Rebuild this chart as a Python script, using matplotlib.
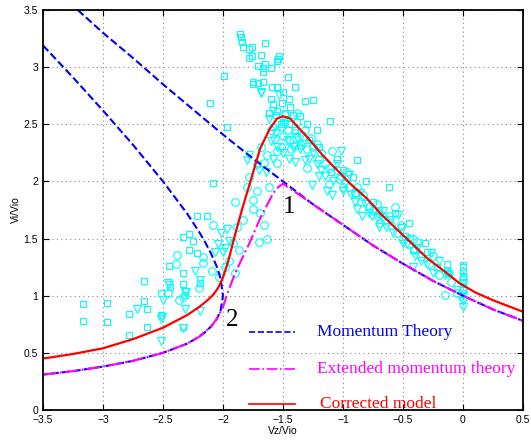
import matplotlib
matplotlib.use("Agg")
import matplotlib.pyplot as plt

# ---- Momentum theory (blue dashed) ----
mt_norm_x = [-3.21, -3.0, -2.75, -2.5, -2.25, -2.0, -1.75, -1.5, -1.25, -1.0, -0.75, -0.5, -0.25, 0.0, 0.25, 0.5]
mt_norm_y = [3.50, 3.30, 3.08, 2.85, 2.63, 2.41, 2.20, 2.00, 1.80, 1.62, 1.44, 1.28, 1.13, 1.00, 0.88, 0.78]

mt_wbs_x = [-3.5, -3.25, -3.0, -2.75, -2.5, -2.4, -2.3, -2.2, -2.15, -2.1, -2.05, -2.02, -2.0,
            -2.02, -2.05, -2.1, -2.15, -2.2, -2.3, -2.4, -2.5, -2.75, -3.0, -3.25, -3.5]
mt_wbs_y = [3.19, 2.91, 2.62, 2.32, 2.00, 1.86, 1.72, 1.56, 1.47, 1.37, 1.25, 1.15, 1.00,
            0.87, 0.80, 0.73, 0.68, 0.64, 0.58, 0.54, 0.50, 0.43, 0.38, 0.34, 0.31]

# ---- Extended momentum theory (magenta dash-dot) ----
emt_x = [-3.5, -3.25, -3.0, -2.75, -2.5, -2.4, -2.3, -2.2, -2.1, -2.05, -2.0, -1.97, -1.92, -1.88,
         -1.83, -1.78, -1.73, -1.68, -1.63, -1.58, -1.54, -1.5, -1.25, -1.0, -0.75, -0.5, -0.25, 0.0, 0.25, 0.5]
emt_y = [0.31, 0.34, 0.38, 0.43, 0.50, 0.54, 0.58, 0.64, 0.73, 0.80, 0.90, 1.00, 1.14, 1.24,
         1.35, 1.46, 1.58, 1.70, 1.80, 1.90, 1.95, 1.98, 1.80, 1.62, 1.44, 1.28, 1.13, 1.00, 0.88, 0.78]

# ---- Corrected model (red solid) ----
cm_x = [-3.5, -3.25, -3.0, -2.75, -2.5, -2.3, -2.2, -2.13, -2.08, -2.04, -2.0, -1.96, -1.92, -1.88, -1.84,
        -1.80, -1.76, -1.69, -1.61, -1.55, -1.5, -1.44, -1.38, -1.30, -1.17, -1.05, -0.94, -0.80, -0.68,
        -0.55, -0.42, -0.30, -0.15, -0.03, 0.1, 0.25, 0.5]
cm_y = [0.45, 0.49, 0.54, 0.62, 0.72, 0.83, 0.90, 0.96, 1.01, 1.07, 1.16, 1.29, 1.45, 1.61, 1.76,
        1.90, 2.04, 2.29, 2.46, 2.55, 2.57, 2.55, 2.48, 2.39, 2.23, 2.10, 1.98, 1.85, 1.71,
        1.58, 1.45, 1.33, 1.21, 1.11, 1.03, 0.96, 0.86]

# ---- Measured data ----
sq_x = [-3.17, -3.17, -2.97, -2.97, -2.78, -2.78, -2.63, -2.66, -2.66, -2.63, -2.52, -2.52, -2.44, -2.45,
        -2.33, -2.33, -2.32, -2.33, -2.08, -2.22, -2.13, -2.28, -2.33, -2.25, -2.28, -2.22, -2.19, -2.11,
        -1.97, -1.99, -1.86, -1.85, -1.84, -1.83, -1.76, -1.78, -1.65, -1.68, -1.76, -1.78, -1.53, -1.54,
        -1.65, -1.71, -1.67, -1.67, -1.60, -1.55, -1.46, -1.75, -1.75, -1.71, -1.67, -1.59, -1.55, -1.40,
        -1.51, -1.44, -1.55, -1.60, -1.56, -1.48, -1.42, -1.36, -1.32, -1.25, -1.11, -1.38, -1.52, -1.58,
        -0.88, -0.81, -0.62, -0.45, -0.57, -0.75, -0.32, -0.30, -0.13, -0.13, -0.125, 0.0, 0.0, 0.0, 0.0,
        0.0, 0.0, -0.52, -0.48, -0.92, -1.0, -1.2, -1.28, -1.1,
        -1.50, -1.45, -1.40, -1.30, -1.22, -1.62, -1.58, -1.50, -1.45, -0.90, -0.70, -0.42, -0.22, 0.0,
        0.0, -1.05]
sq_y = [0.93, 0.78, 0.94, 0.77, 0.84, 0.66, 0.88, 0.95, 1.13, 0.73, 1.02, 0.83, 1.08, 1.26,
        1.20, 1.10, 1.01, 0.73, 1.99, 1.70, 1.70, 1.54, 1.51, 1.48, 1.40, 1.37, 1.11, 2.69,
        2.48, 2.92, 3.29, 3.26, 3.22, 3.18, 3.18, 3.16, 3.21, 3.11, 3.10, 3.08, 3.10, 3.07,
        3.03, 3.01, 2.99, 2.96, 2.99, 3.05, 2.91, 2.87, 2.85, 2.86, 2.87, 2.83, 2.83, 2.83,
        2.69, 2.65, 2.62, 2.72, 2.58, 2.60, 2.58, 2.57, 2.70, 2.71, 2.53, 2.52, 2.50, 2.48,
        2.19, 2.00, 1.95, 1.64, 1.72, 1.82, 1.46, 1.38, 1.28, 1.22, 1.20, 1.27, 1.22, 1.17, 1.12,
        1.08, 1.05, 1.60, 1.52, 2.04, 2.10, 2.30, 2.36, 2.08,
        2.52, 2.50, 2.45, 2.50, 2.45, 2.60, 2.68, 2.78, 2.72, 1.90, 1.75, 1.40, 1.25, 1.20,
        1.25, 2.20]

ci_x = [-2.46, -2.39, -2.37, -2.08, -2.38, -2.17, -2.17, -2.20, -2.33, -2.09, -2.03, -1.90, -1.92, -1.69,
        -1.63, -1.70, -1.88, -1.66, -1.75, -1.75, -1.83, -1.95, -1.90, -1.98, -1.87, -1.63, -1.55, -1.55,
        -1.66, -1.45, -1.40, -1.50, -1.35, -1.30, -1.25, -1.20, -1.15, -1.09, -1.05, -1.03, -1.0, -0.95,
        -0.90, -0.85, -0.78, -0.70, -0.65, -0.57, -0.60, -0.55, -0.50, -0.45, -0.40, -0.35, -0.69, -0.15,
        0.0, -0.05, -1.78, -1.72, -1.8, -1.62, -1.46, -1.52, -1.30, -1.12, -0.72, -0.28, -0.20, -0.10,
        -1.57, -1.52, -1.43, -1.40, -1.32, -1.27, -1.22, -1.18, -1.12, -1.02, -0.97, -0.88, -0.83, -0.75,
        -0.67, -0.62, -0.52, -0.42, -0.38, -0.25, -0.12, 0.0, 0.0, -1.60, -1.48, -1.38, -1.68, -1.72]
ci_y = [1.02, 1.28, 0.96, 1.62, 1.36, 1.34, 1.29, 1.07, 0.99, 1.22, 1.16, 1.82, 1.46, 1.72,
        1.50, 1.47, 1.60, 1.62, 1.84, 1.76, 1.66, 1.30, 1.20, 1.25, 1.40, 2.23, 2.16, 2.27,
        2.16, 2.35, 2.42, 2.40, 2.32, 2.28, 2.30, 2.20, 2.15, 2.27, 2.10, 2.02, 1.95, 1.95,
        1.90, 1.82, 1.78, 1.72, 1.66, 1.78, 1.62, 1.55, 1.50, 1.45, 1.40, 1.35, 1.64, 1.01,
        0.98, 1.02, 2.04, 1.92, 1.95, 1.95, 2.45, 2.30, 2.12, 1.98, 1.80, 1.28, 1.18, 1.12,
        2.38, 2.48, 2.28, 2.32, 2.45, 2.38, 2.33, 2.25, 2.12, 2.05, 2.08, 1.95, 1.88, 1.75,
        1.70, 1.70, 1.62, 1.50, 1.47, 1.35, 1.20, 1.05, 1.15, 2.45, 2.58, 2.60, 2.30, 2.15]

tr_x = [-2.72, -2.50, -2.52, -2.52, -2.46, -2.32, -2.32, -2.33, -2.23, -2.19, -2.45, -2.31, -2.19, -2.51,
        -2.04, -1.98, -1.95, -2.00, -2.07, -2.02, -1.97, -1.68, -1.53, -1.68, -1.40, -1.80, -1.70, -1.32,
        -1.78, -1.02, -1.13, -1.26, -1.09, -0.95, -0.84, -0.67, -0.54, -0.42, -0.27, 0.0, -0.20, -0.38,
        -0.44, -0.60, -0.76, -0.90, -1.0, -1.2, -1.36, -1.46, -1.56, -1.60, -1.48, -1.38, -1.28, -1.18,
        -0.88, -0.70, -0.5, -0.35, -0.05, 0.0, -1.62, -1.58,
        -1.55, -1.50, -1.45, -1.42, -1.35, -1.33, -1.25, -1.22, -1.15, -1.08, -1.05, -0.98, -0.93, -0.86,
        -0.82, -0.78, -0.72, -0.64, -0.58, -0.47, -0.40, -0.30, -0.25, -0.15, 0.0, 0.0, -1.58, -1.64]
tr_y = [0.88, 0.96, 0.80, 0.60, 1.11, 1.03, 0.88, 0.72, 1.22, 1.14, 1.09, 1.03, 0.87, 0.81,
        1.45, 1.42, 1.48, 1.38, 1.38, 1.55, 1.58, 2.78, 2.76, 2.77, 2.17, 2.19, 2.10, 2.19,
        2.23, 2.27, 1.92, 1.97, 1.88, 2.06, 1.70, 1.74, 1.71, 1.25, 1.37, 0.90, 1.30, 1.42,
        1.50, 1.66, 1.70, 1.82, 1.92, 2.05, 2.28, 2.36, 2.42, 2.35, 2.50, 2.38, 2.20, 2.10,
        1.76, 1.60, 1.45, 1.30, 1.05, 0.95, 2.55, 2.62,
        2.30, 2.25, 2.20, 2.30, 2.40, 2.33, 2.25, 2.15, 2.05, 2.00, 2.15, 1.98, 1.88, 1.90,
        1.80, 1.72, 1.68, 1.60, 1.55, 1.45, 1.35, 1.28, 1.20, 1.18, 1.00, 1.10, 2.20, 2.08]

x_ticks = [-3.5, -3, -2.5, -2, -1.5, -1, -0.5, 0, 0.5]
x_tick_labels = ["\u22123.5", "\u22123", "\u22122.5", "\u22122", "\u22121.5", "\u22121", "\u22120.5", "0", "0.5"]
y_ticks = [0, 0.5, 1, 1.5, 2, 2.5, 3, 3.5]
y_tick_labels = ["0", "0.5", "1", "1.5", "2", "2.5", "3", "3.5"]

legend_labels = ["Momentum Theory", "Extended momentum theory", "Corrected model"]

fig = plt.figure(figsize=(5.31, 4.40), dpi=100)
ax = fig.add_axes([43 / 531, 30 / 440, 480 / 531, 400 / 440])

cyan = (0, 1, 1)
mk = dict(linestyle="none", markerfacecolor="none", markeredgecolor=cyan, markeredgewidth=0.8)
ax.plot(sq_x, sq_y, marker="s", markersize=5, **mk)
ax.plot(ci_x, ci_y, marker="o", markersize=5.5, **mk)
ax.plot(tr_x, tr_y, marker="v", markersize=6, **mk)

ax.plot(mt_norm_x, mt_norm_y, color="blue", linestyle="--", linewidth=1.5)
ax.plot(mt_wbs_x, mt_wbs_y, color="blue", linestyle="--", linewidth=1.5)
ax.plot(emt_x, emt_y, color="magenta", linestyle="-.", linewidth=1.5)
ax.plot(cm_x, cm_y, color="red", linestyle="-", linewidth=1.6)

ax.set_xlim(-3.5, 0.5)
ax.set_ylim(0, 3.5)
ax.set_xticks(x_ticks)
ax.set_xticklabels(x_tick_labels)
ax.set_yticks(y_ticks)
ax.set_yticklabels(y_tick_labels)
ax.grid(True, linestyle=(0, (1, 3)), color="#888888", linewidth=0.8)
ax.tick_params(direction="in", top=True, right=True, length=4, labelsize=7.5, width=0.8)
for lab in ax.get_xticklabels() + ax.get_yticklabels():
    lab.set_fontfamily("Liberation Sans")
for sp in ax.spines.values():
    sp.set_linewidth(1.3)

ax.set_xlabel("Vz/Vio", fontsize=7.5, family="Liberation Sans", labelpad=1)
ax.set_ylabel("Vi/Vio", fontsize=7.5, family="Liberation Sans", labelpad=2)

serif = "Liberation Serif"
ax.text(-1.45, 1.78, "1", fontsize=18, family=serif, ha="center", va="center")
ax.text(-1.92, 0.79, "2", fontsize=18, family=serif, ha="center", va="center")

leg_colors = ["blue", "magenta", "red"]
leg_styles = ["--", "-.", "-"]
leg_y = [0.68, 0.36, 0.05]
leg_text_x = [-1.22, -1.22, -1.19]
for lab, col, ls, yy, tx in zip(legend_labels, leg_colors, leg_styles, leg_y, leg_text_x):
    ax.plot([-1.78, -1.40], [yy, yy], color=col, linestyle=ls, linewidth=1.2)
    ax.text(tx, yy, lab, color=col, fontsize=12.5, family=serif, va="center", ha="left")

fig.savefig("out.png", dpi=100)
